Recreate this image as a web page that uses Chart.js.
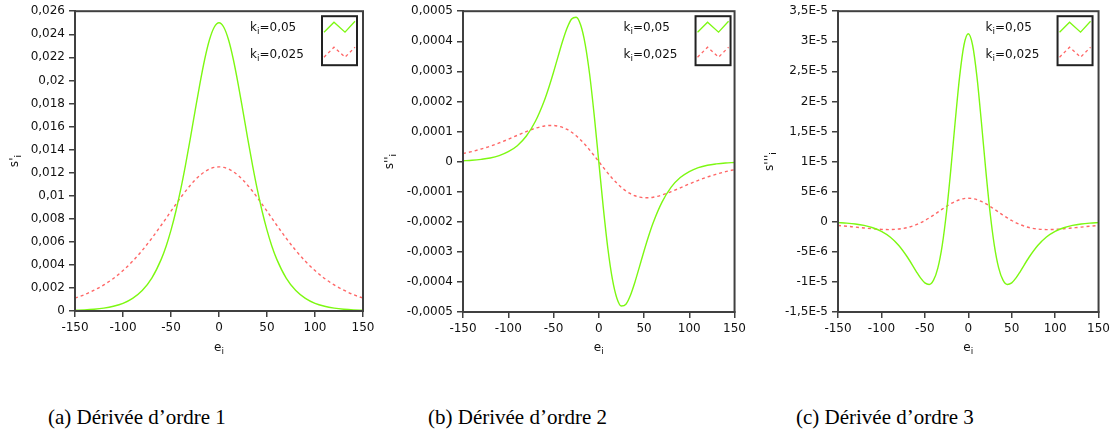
<!DOCTYPE html>
<html>
<head>
<meta charset="utf-8">
<script src="https://cdn.jsdelivr.net/npm/chart.js@4.4.1/dist/chart.umd.min.js"></script>
<style>
  body { margin: 0; background: #fff; width: 1114px; height: 436px; position: relative; overflow: hidden; }
  canvas { position: absolute; top: 0; }
  .cap { position: absolute; top: 404px; font-family: "Liberation Serif", "DejaVu Serif", serif; font-size: 21px; line-height: 26px; color: #000; white-space: nowrap; }
</style>
</head>
<body>
<canvas id="c1" width="380" height="362" style="left:0px"></canvas>
<canvas id="c2" width="370" height="362" style="left:380px"></canvas>
<canvas id="c3" width="364" height="362" style="left:750px"></canvas>
<div class="cap" style="left:48px">(a) Dérivée d’ordre 1</div>
<div class="cap" style="left:428px">(b) Dérivée d’ordre 2</div>
<div class="cap" style="left:796px">(c) Dérivée d’ordre 3</div>
<script>
// e_i sample positions (finer near the centre)
const eVals = [-150,-140,-130,-120,-110,-100,-90,-80,-70,-60,-55,-50,-45,-40,-35,-30,-25,-20,-15,-10,-5,0,5,10,15,20,25,30,35,40,45,50,55,60,70,80,90,100,110,120,130,140,150];

// first derivative
const d1k05 = [0.00006,0.00009,0.00015,0.00025,0.00041,0.00066,0.00109,0.00177,0.00285,0.00452,0.00564,0.00701,0.00863,0.0105,0.01261,0.01491,0.01731,0.01966,0.02179,0.0235,0.02461,0.025,0.02461,0.0235,0.02179,0.01966,0.01731,0.01491,0.01261,0.0105,0.00863,0.00701,0.00564,0.00452,0.00285,0.00177,0.00109,0.00066,0.00041,0.00025,0.00015,0.00009,0.00006];
const d1k025 = [0.00112,0.00142,0.00181,0.00226,0.00282,0.00351,0.00431,0.00525,0.00631,0.00746,0.00805,0.00866,0.00924,0.00983,0.01038,0.01089,0.01136,0.01175,0.01207,0.01231,0.01245,0.0125,0.01245,0.01231,0.01207,0.01175,0.01136,0.01089,0.01038,0.00983,0.00924,0.00866,0.00805,0.00746,0.00631,0.00525,0.00431,0.00351,0.00282,0.00226,0.00181,0.00142,0.00112];

// second derivative
const d2k05 = [0.0000028,0.0000045,0.0000075,0.000012,0.00002,0.000033,0.000053,0.000085,0.000134,0.000204,0.000248,0.000297,0.000349,0.0004,0.000444,0.000474,0.00048,0.000454,0.00039,0.000288,0.000153,0,-0.000153,-0.000288,-0.00039,-0.000454,-0.00048,-0.000474,-0.000444,-0.0004,-0.000349,-0.000297,-0.000248,-0.000204,-0.000134,-0.000085,-0.000053,-0.000033,-0.00002,-0.000012,-0.0000075,-0.0000045,-0.0000028];
const d2k025 = [0.0000268,0.0000335,0.0000419,0.0000511,0.0000621,0.0000743,0.0000873,0.0000999,0.000111,0.0001184,0.00012,0.00012,0.0001178,0.0001136,0.0001068,0.0000976,0.0000859,0.0000719,0.0000559,0.0000383,0.0000194,0,-0.0000194,-0.0000383,-0.0000559,-0.0000719,-0.0000859,-0.0000976,-0.0001068,-0.0001136,-0.0001178,-0.00012,-0.00012,-0.0001184,-0.000111,-0.0000999,-0.0000873,-0.0000743,-0.0000621,-0.0000511,-0.0000419,-0.0000335,-0.0000268];

// third derivative
const d3k05 = [-1.4e-7,-2.3e-7,-3.7e-7,-6.1e-7,-9.9e-7,-1.6e-6,-2.54e-6,-3.95e-6,-5.9e-6,-8.23e-6,-9.33e-6,-1.015e-5,-1.042e-5,-9.71e-6,-7.67e-6,-3.92e-6,1.66e-6,8.83e-6,1.674e-5,2.409e-5,2.934e-5,3.125e-5,2.934e-5,2.409e-5,1.674e-5,8.83e-6,1.66e-6,-3.92e-6,-7.67e-6,-9.71e-6,-1.042e-5,-1.015e-5,-9.33e-6,-8.23e-6,-5.9e-6,-3.95e-6,-2.54e-6,-1.6e-6,-9.9e-7,-6.1e-7,-3.7e-7,-2.3e-7,-1.4e-7];
const d3k025 = [-6.1e-7,-7.4e-7,-8.9e-7,-1.03e-6,-1.17e-6,-1.27e-6,-1.3e-6,-1.21e-6,-9.6e-7,-4.9e-7,-1.7e-7,2.1e-7,6.4e-7,1.1e-6,1.6e-6,2.09e-6,2.57e-6,3.01e-6,3.38e-6,3.67e-6,3.85e-6,3.91e-6,3.85e-6,3.67e-6,3.38e-6,3.01e-6,2.57e-6,2.09e-6,1.6e-6,1.1e-6,6.4e-7,2.1e-7,-1.7e-7,-4.9e-7,-9.6e-7,-1.21e-6,-1.3e-6,-1.27e-6,-1.17e-6,-1.03e-6,-8.9e-7,-7.4e-7,-6.1e-7];

// tick values
const xTicks = [-150,-100,-50,0,50,100,150];
const yTicks1 = [0,0.002,0.004,0.006,0.008,0.01,0.012,0.014,0.016,0.018,0.02,0.022,0.024,0.026];
const yTicks2 = [-0.0005,-0.0004,-0.0003,-0.0002,-0.0001,0,0.0001,0.0002,0.0003,0.0004,0.0005];
const yTicks3 = [-1.5e-5,-1e-5,-5e-6,0,5e-6,1e-5,1.5e-5,2e-5,2.5e-5,3e-5,3.5e-5];

// legend: "k" + subscript "i" + value
const seriesValues = ["=0,05", "=0,025"];

const GREEN = "#7df812";
const RED = "#ff6666";
const AXIS = "#404040";
const TEXT = "#111";
const FONT = "DejaVu Sans";
const DASH = [3, 3];

function fmtDec(v) {
  return String(+v.toFixed(6)).replace(".", ",");
}
function fmtExp(v) {
  if (v === 0) return "0";
  const ex = Math.floor(Math.log10(Math.abs(v)) + 1e-9);
  const m = Math.round(v / Math.pow(10, ex) * 10) / 10;
  return String(m).replace(".", ",") + "E" + ex;
}

// text with a subscript "i" after it, drawn from x (left) at baseline y
function subText(ctx, main, x, y) {
  ctx.font = "12px " + FONT;
  ctx.fillText(main, x, y);
  const w = ctx.measureText(main).width;
  ctx.font = "9px " + FONT;
  ctx.fillText("i", x + w, y + 3);
  return w + ctx.measureText("i").width;
}
function subWidth(ctx, main) {
  ctx.font = "12px " + FONT;
  const w = ctx.measureText(main).width;
  ctx.font = "9px " + FONT;
  return w + ctx.measureText("i").width;
}

// frame around plot, axis titles and LabVIEW-like legend box
const framePlugin = {
  id: "frame",
  afterDraw(chart) {
    const { ctx, chartArea: a } = chart;
    const o = chart.options.plugins.frame;
    ctx.save();
    ctx.strokeStyle = AXIS;
    ctx.lineWidth = 2;
    ctx.strokeRect(a.left, a.top, a.right - a.left, a.bottom - a.top);

    // axis titles
    ctx.fillStyle = TEXT;
    ctx.textAlign = "left";
    ctx.textBaseline = "alphabetic";
    const cx = (a.left + a.right) / 2;
    subText(ctx, "e", cx - subWidth(ctx, "e") / 2, 351);
    ctx.save();
    ctx.translate(o.ytx, (a.top + a.bottom) / 2);
    ctx.rotate(-Math.PI / 2);
    subText(ctx, o.yTitle, -subWidth(ctx, o.yTitle) / 2, 0);
    ctx.restore();

    // legend box
    const bx = a.right - o.inset - 35, by = a.top + 5, bw = 35, bh = 49;
    ctx.fillStyle = "#fff";
    ctx.fillRect(bx, by, bw, bh);
    ctx.strokeStyle = "#222";
    ctx.lineWidth = 2;
    ctx.strokeRect(bx, by, bw, bh);

    ctx.lineWidth = 1.3;
    ctx.strokeStyle = GREEN;
    ctx.beginPath();
    ctx.moveTo(bx + 2, by + 16); ctx.lineTo(bx + 12, by + 6);
    ctx.lineTo(bx + 23, by + 16); ctx.lineTo(bx + 33, by + 5);
    ctx.stroke();
    ctx.strokeStyle = RED;
    ctx.setLineDash(DASH);
    ctx.beginPath();
    ctx.moveTo(bx + 2, by + 41); ctx.lineTo(bx + 12, by + 31);
    ctx.lineTo(bx + 23, by + 41); ctx.lineTo(bx + 33, by + 31);
    ctx.stroke();
    ctx.setLineDash([]);

    ctx.fillStyle = TEXT;
    const lx = bx - 72;
    let w = subText(ctx, "k", lx, by + 15);
    ctx.font = "12px " + FONT;
    ctx.fillText(seriesValues[0], lx + w, by + 15);
    w = subText(ctx, "k", lx, by + 42);
    ctx.font = "12px " + FONT;
    ctx.fillText(seriesValues[1], lx + w, by + 42);
    ctx.restore();
  }
};

function makeChart(id, s1, s2, yTicks, fmt, yTitle, g) {
  const pts = s => eVals.map((x, i) => ({ x: x, y: s[i] }));
  return new Chart(document.getElementById(id), {
    type: "line",
    data: {
      datasets: [
        { label: "k=0,05", data: pts(s1), borderColor: GREEN, borderWidth: 1.4,
          pointRadius: 0, cubicInterpolationMode: "monotone", fill: false },
        { label: "k=0,025", data: pts(s2), borderColor: RED, borderWidth: 1.4,
          borderDash: DASH, pointRadius: 0, cubicInterpolationMode: "monotone", fill: false }
      ]
    },
    options: {
      responsive: false,
      animation: false,
      layout: { padding: { left: 0, right: g.padR, top: 8, bottom: 0 } },
      plugins: {
        legend: { display: false },
        tooltip: { enabled: false },
        frame: { inset: g.inset, ytx: g.ytx, yTitle: yTitle }
      },
      scales: {
        x: {
          type: "linear", min: -150, max: 150,
          afterBuildTicks: s => { s.ticks = xTicks.map(v => ({ value: v })); },
          afterFit: s => { s.height = g.xh; },
          grid: { drawOnChartArea: false, drawTicks: true, tickLength: 6, color: AXIS, lineWidth: 1.5 },
          border: { display: true, color: AXIS, width: 2 },
          ticks: { font: { family: FONT, size: 12 }, color: TEXT, padding: 4, maxRotation: 0 }
        },
        y: {
          type: "linear", min: yTicks[0], max: yTicks[yTicks.length - 1],
          afterBuildTicks: s => { s.ticks = yTicks.map(v => ({ value: v })); },
          afterFit: s => { s.width = g.yw; },
          grid: { drawOnChartArea: false, drawTicks: true, tickLength: 6, color: AXIS, lineWidth: 1.5 },
          border: { display: true, color: AXIS, width: 2 },
          ticks: { font: { family: FONT, size: 12 }, color: TEXT, padding: 4, callback: v => fmt(v) }
        }
      }
    },
    plugins: [framePlugin]
  });
}

makeChart("c1", d1k05, d1k025, yTicks1, fmtDec, "s'", { padR: 17, yw: 75, xh: 51, ytx: 18, inset: 6 });
makeChart("c2", d2k05, d2k025, yTicks2, fmtDec, "s''", { padR: 12, yw: 83, xh: 50, ytx: 13, inset: 4 });
makeChart("c3", d3k05, d3k025, yTicks3, fmtExp, "s'''", { padR: 12, yw: 88, xh: 50, ytx: 23, inset: 6 });
</script>
</body>
</html>
